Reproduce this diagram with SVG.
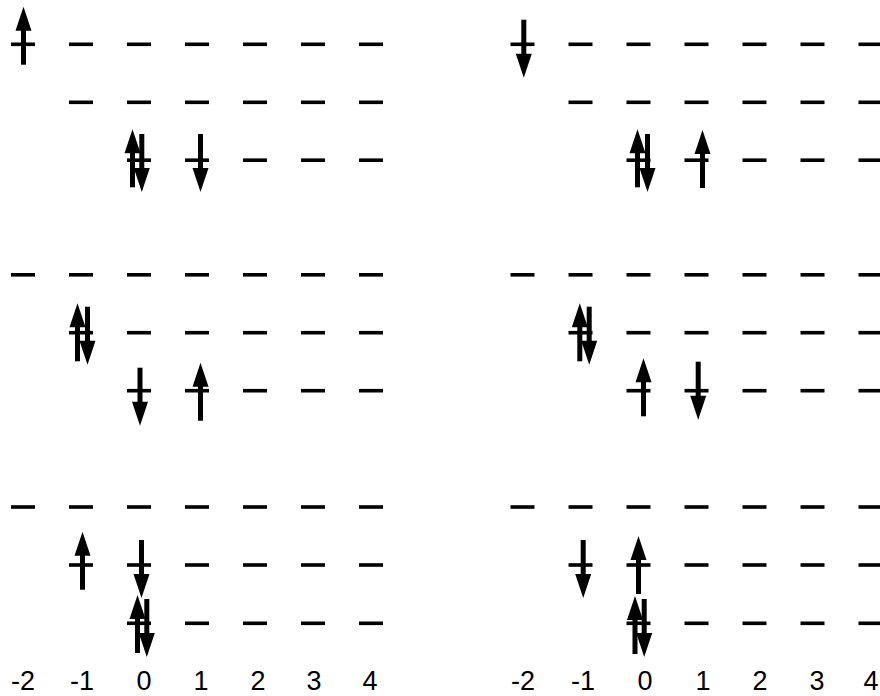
<svg xmlns="http://www.w3.org/2000/svg" xmlns:xlink="http://www.w3.org/1999/xlink" width="880" height="696" viewBox="0 0 880 696">
<style>
.lbl{font-family:"Liberation Sans",Arial,sans-serif;font-size:27px;fill:#000;text-anchor:middle}
</style>
<defs>
<rect id="d" x="-12" y="-1.8" width="24" height="3.6" fill="#000"/>
<g id="up" fill="#000"><path d="M0,0 L8,24 L-8,24 Z"/><rect x="-2.5" y="20" width="5" height="38"/></g>
<g id="dn" fill="#000"><path d="M0,58 L8,34 L-8,34 Z"/><rect x="-2.5" y="0" width="5" height="38"/></g>
</defs>
<rect width="880" height="696" fill="#fff"/>
<g id="left-panel">
<g id="L-level1">
<use xlink:href="#d" x="23" y="44.3"/><use xlink:href="#d" x="81" y="44.3"/><use xlink:href="#d" x="139" y="44.3"/><use xlink:href="#d" x="197" y="44.3"/><use xlink:href="#d" x="255" y="44.3"/><use xlink:href="#d" x="313" y="44.3"/><use xlink:href="#d" x="371" y="44.3"/>
<use xlink:href="#d" x="81" y="102.3"/><use xlink:href="#d" x="139" y="102.3"/><use xlink:href="#d" x="197" y="102.3"/><use xlink:href="#d" x="255" y="102.3"/><use xlink:href="#d" x="313" y="102.3"/><use xlink:href="#d" x="371" y="102.3"/>
<use xlink:href="#d" x="139" y="160.2"/><use xlink:href="#d" x="197" y="160.2"/><use xlink:href="#d" x="255" y="160.2"/><use xlink:href="#d" x="313" y="160.2"/><use xlink:href="#d" x="371" y="160.2"/>
<use xlink:href="#up" x="23.5" y="6.7"/>
<use xlink:href="#up" x="132.5" y="129.3"/><use xlink:href="#dn" x="141.8" y="134"/>
<use xlink:href="#dn" x="200.5" y="134"/>
</g>
<g id="L-level2">
<use xlink:href="#d" x="23" y="274.8"/><use xlink:href="#d" x="81" y="274.8"/><use xlink:href="#d" x="139" y="274.8"/><use xlink:href="#d" x="197" y="274.8"/><use xlink:href="#d" x="255" y="274.8"/><use xlink:href="#d" x="313" y="274.8"/><use xlink:href="#d" x="371" y="274.8"/>
<use xlink:href="#d" x="81" y="332.7"/><use xlink:href="#d" x="139" y="332.7"/><use xlink:href="#d" x="197" y="332.7"/><use xlink:href="#d" x="255" y="332.7"/><use xlink:href="#d" x="313" y="332.7"/><use xlink:href="#d" x="371" y="332.7"/>
<use xlink:href="#d" x="139" y="390.7"/><use xlink:href="#d" x="197" y="390.7"/><use xlink:href="#d" x="255" y="390.7"/><use xlink:href="#d" x="313" y="390.7"/><use xlink:href="#d" x="371" y="390.7"/>
<use xlink:href="#up" x="77.5" y="303.3"/><use xlink:href="#dn" x="87.5" y="306.7"/>
<use xlink:href="#dn" x="140" y="367.7"/>
<use xlink:href="#up" x="200.5" y="362.7"/>
</g>
<g id="L-level3">
<use xlink:href="#d" x="23" y="507"/><use xlink:href="#d" x="81" y="507"/><use xlink:href="#d" x="139" y="507"/><use xlink:href="#d" x="197" y="507"/><use xlink:href="#d" x="255" y="507"/><use xlink:href="#d" x="313" y="507"/><use xlink:href="#d" x="371" y="507"/>
<use xlink:href="#d" x="81" y="565"/><use xlink:href="#d" x="139" y="565"/><use xlink:href="#d" x="197" y="565"/><use xlink:href="#d" x="255" y="565"/><use xlink:href="#d" x="313" y="565"/><use xlink:href="#d" x="371" y="565"/>
<use xlink:href="#d" x="139" y="623.3"/><use xlink:href="#d" x="197" y="623.3"/><use xlink:href="#d" x="255" y="623.3"/><use xlink:href="#d" x="313" y="623.3"/><use xlink:href="#d" x="371" y="623.3"/>
<use xlink:href="#up" x="82.5" y="531.7"/>
<use xlink:href="#dn" x="141.5" y="540"/>
<use xlink:href="#up" x="137.5" y="595"/><use xlink:href="#dn" x="146.8" y="599"/>
</g>
<g id="L-labels">
<text class="lbl" x="23" y="690">-2</text><text class="lbl" x="82" y="690">-1</text><text class="lbl" x="144" y="690">0</text><text class="lbl" x="201" y="690">1</text><text class="lbl" x="258" y="690">2</text><text class="lbl" x="314" y="690">3</text><text class="lbl" x="370" y="690">4</text>
</g>
</g>
<g id="right-panel">
<g id="R-level1">
<use xlink:href="#d" x="522.5" y="44.3"/><use xlink:href="#d" x="580.5" y="44.3"/><use xlink:href="#d" x="638.5" y="44.3"/><use xlink:href="#d" x="696.5" y="44.3"/><use xlink:href="#d" x="754.5" y="44.3"/><use xlink:href="#d" x="812.5" y="44.3"/><use xlink:href="#d" x="870.5" y="44.3"/>
<use xlink:href="#d" x="580.5" y="102.3"/><use xlink:href="#d" x="638.5" y="102.3"/><use xlink:href="#d" x="696.5" y="102.3"/><use xlink:href="#d" x="754.5" y="102.3"/><use xlink:href="#d" x="812.5" y="102.3"/><use xlink:href="#d" x="870.5" y="102.3"/>
<use xlink:href="#d" x="638.5" y="160.2"/><use xlink:href="#d" x="696.5" y="160.2"/><use xlink:href="#d" x="754.5" y="160.2"/><use xlink:href="#d" x="812.5" y="160.2"/><use xlink:href="#d" x="870.5" y="160.2"/>
<use xlink:href="#dn" x="523.8" y="19.7"/>
<use xlink:href="#up" x="637.5" y="129.3"/><use xlink:href="#dn" x="647.5" y="134"/>
<use xlink:href="#up" x="702.5" y="130"/>
</g>
<g id="R-level2">
<use xlink:href="#d" x="522.5" y="274.8"/><use xlink:href="#d" x="580.5" y="274.8"/><use xlink:href="#d" x="638.5" y="274.8"/><use xlink:href="#d" x="696.5" y="274.8"/><use xlink:href="#d" x="754.5" y="274.8"/><use xlink:href="#d" x="812.5" y="274.8"/><use xlink:href="#d" x="870.5" y="274.8"/>
<use xlink:href="#d" x="580.5" y="332.7"/><use xlink:href="#d" x="638.5" y="332.7"/><use xlink:href="#d" x="696.5" y="332.7"/><use xlink:href="#d" x="754.5" y="332.7"/><use xlink:href="#d" x="812.5" y="332.7"/><use xlink:href="#d" x="870.5" y="332.7"/>
<use xlink:href="#d" x="638.5" y="390.7"/><use xlink:href="#d" x="696.5" y="390.7"/><use xlink:href="#d" x="754.5" y="390.7"/><use xlink:href="#d" x="812.5" y="390.7"/><use xlink:href="#d" x="870.5" y="390.7"/>
<use xlink:href="#up" x="579.8" y="303.3"/><use xlink:href="#dn" x="589.2" y="306.7"/>
<use xlink:href="#up" x="643.5" y="358.3"/>
<use xlink:href="#dn" x="698.2" y="361.7"/>
</g>
<g id="R-level3">
<use xlink:href="#d" x="522.5" y="507"/><use xlink:href="#d" x="580.5" y="507"/><use xlink:href="#d" x="638.5" y="507"/><use xlink:href="#d" x="696.5" y="507"/><use xlink:href="#d" x="754.5" y="507"/><use xlink:href="#d" x="812.5" y="507"/><use xlink:href="#d" x="870.5" y="507"/>
<use xlink:href="#d" x="580.5" y="565"/><use xlink:href="#d" x="638.5" y="565"/><use xlink:href="#d" x="696.5" y="565"/><use xlink:href="#d" x="754.5" y="565"/><use xlink:href="#d" x="812.5" y="565"/><use xlink:href="#d" x="870.5" y="565"/>
<use xlink:href="#d" x="638.5" y="623.3"/><use xlink:href="#d" x="696.5" y="623.3"/><use xlink:href="#d" x="754.5" y="623.3"/><use xlink:href="#d" x="812.5" y="623.3"/><use xlink:href="#d" x="870.5" y="623.3"/>
<use xlink:href="#dn" x="583.2" y="540"/>
<use xlink:href="#up" x="638.5" y="536"/>
<use xlink:href="#up" x="635" y="596"/><use xlink:href="#dn" x="644.2" y="599"/>
</g>
<g id="R-labels">
<text class="lbl" x="523" y="690">-2</text><text class="lbl" x="583" y="690">-1</text><text class="lbl" x="645" y="690">0</text><text class="lbl" x="703" y="690">1</text><text class="lbl" x="760" y="690">2</text><text class="lbl" x="817" y="690">3</text><text class="lbl" x="871" y="690">4</text>
</g>
</g>
<g id="connectors"/>
</svg>
